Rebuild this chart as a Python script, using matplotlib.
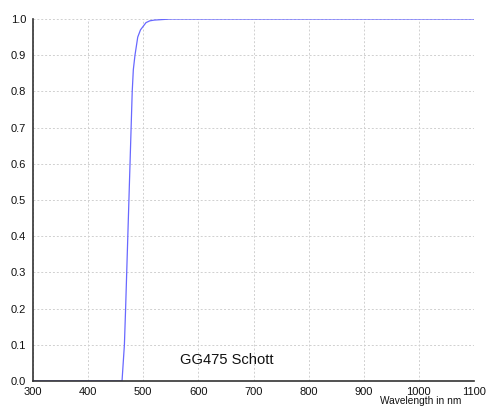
import matplotlib
matplotlib.use('Agg')
import matplotlib.pyplot as plt

plt.rcParams['font.family'] = ['Liberation Sans', 'DejaVu Sans']

# GG475 transmission
wavelength = [300, 400, 455, 461.5, 465.8, 468, 470, 472, 474, 476, 478, 480, 482,
              485, 490, 495, 500, 505, 512, 520, 530, 549, 600, 800, 1100]
transmission = [0.0, 0.0, 0.0, 0.0, 0.1, 0.2, 0.3, 0.4, 0.5, 0.6, 0.7, 0.8, 0.86,
                0.9, 0.95, 0.97, 0.98, 0.99, 0.995, 0.997, 0.998, 1.0, 1.0, 1.0, 1.0]
xticks = list(range(300, 1101, 100))
yticks = [i / 10 for i in range(11)]

fig = plt.figure(figsize=(4.88, 4.08), dpi=100)
ax = fig.add_axes([33/488, 27/408, 441/488, 362/408])
ax.plot(wavelength, transmission, color='#6868ff', lw=0.9)
ax.set_xlim(300, 1100); ax.set_ylim(0, 1.0)
ax.set_xticks(xticks); ax.set_yticks(yticks)
ax.set_yticklabels([f'{v:.1f}' for v in yticks])
ax.tick_params(length=0, labelsize=8, colors='#111111')
ax.tick_params(axis='x', pad=4)
ax.tick_params(axis='y', pad=5)
ax.grid(True, color='#d0d0d0', ls=(0, (2, 2)), lw=0.7)
for s in ['top', 'right']:
    ax.spines[s].set_visible(False)
for s in ['left', 'bottom']:
    ax.spines[s].set_color('#333333'); ax.spines[s].set_linewidth(1.2)
ax.text(651, 0.057, 'GG475 Schott', fontsize=10.6, ha='center', va='center', color='#111111')
fig.text(461/488, 4/408, 'Wavelength in nm', fontsize=7.3, ha='right', va='baseline', color='#111111')
fig.savefig('out.png', dpi=100)
